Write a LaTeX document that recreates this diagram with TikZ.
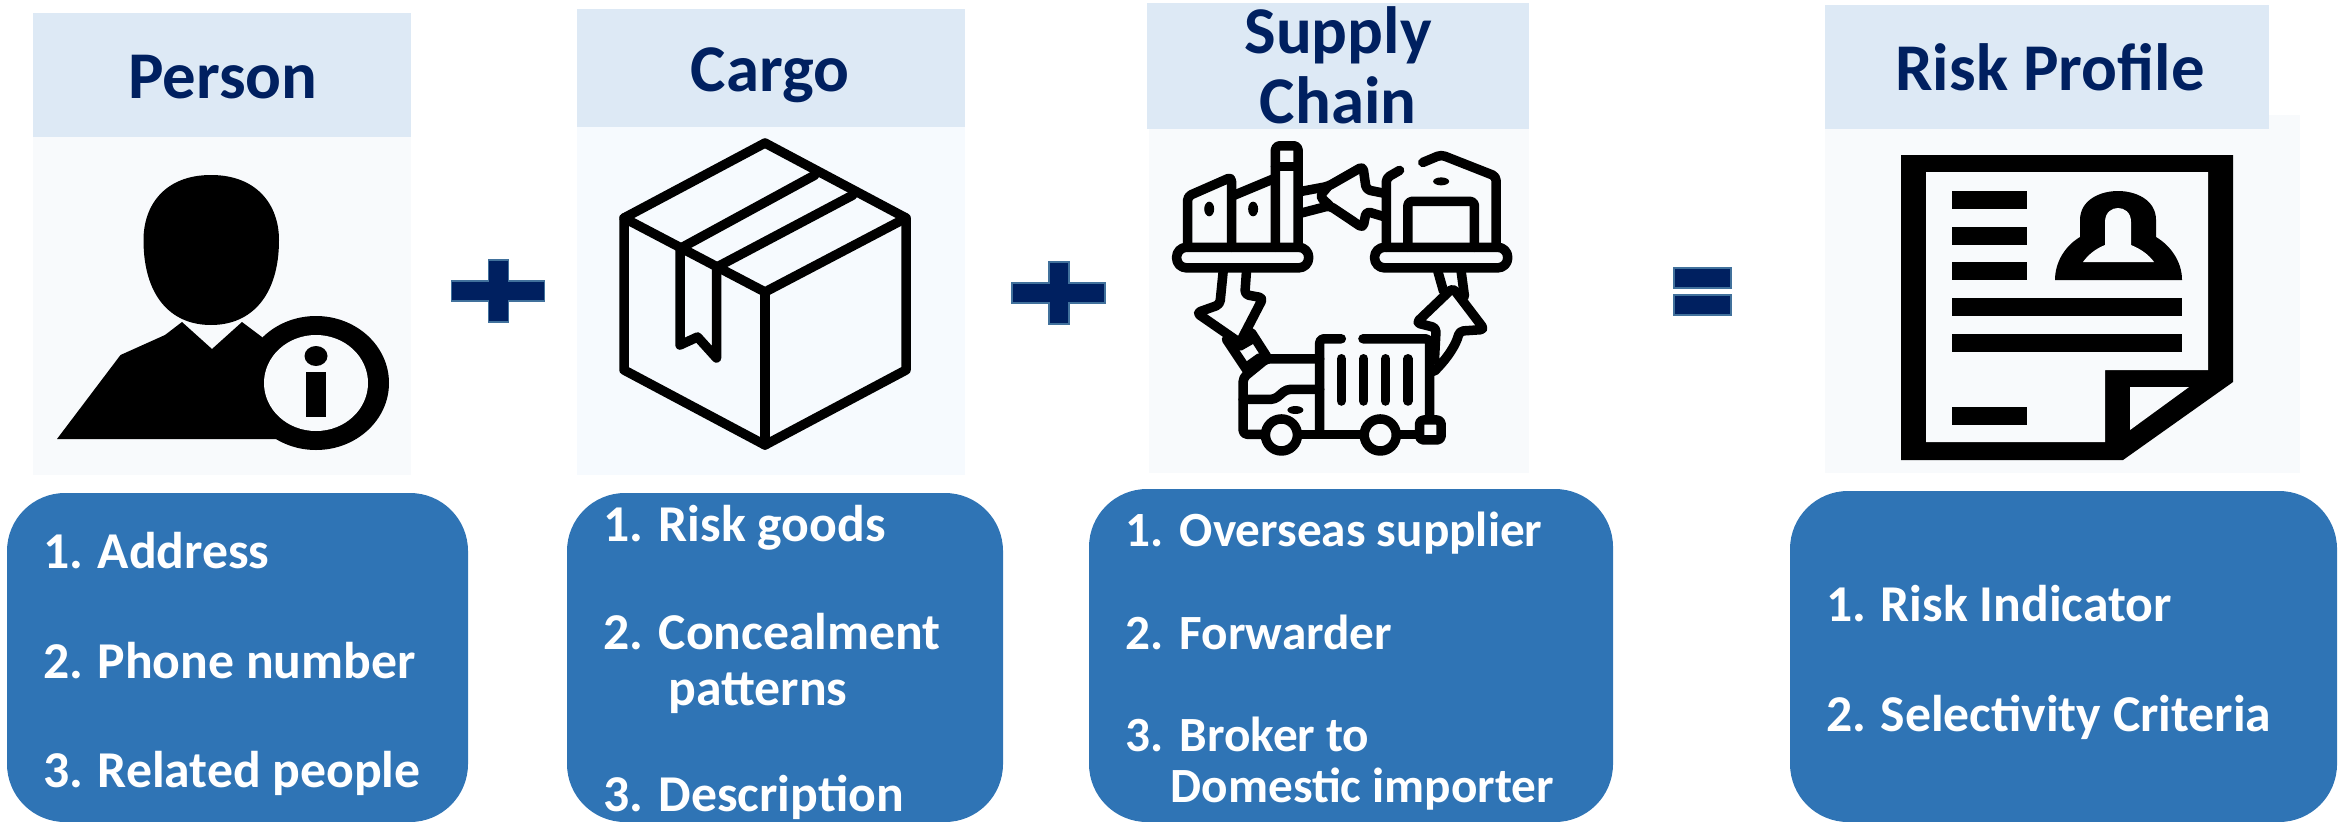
\documentclass[tikz,border=0pt]{standalone}
\usepackage{fontspec}
\setmainfont{Carlito}
\usepackage{tikz}
\definecolor{headfill}{HTML}{DDE9F5}
\definecolor{panelfill}{HTML}{F8FAFC}
\definecolor{cargofill}{HTML}{F6FAFE}
\definecolor{listfill}{HTML}{2F74B5}
\definecolor{navy}{HTML}{002060}
\definecolor{signedge}{HTML}{41719C}
\tikzset{
	headtext/.style={anchor=base,inner sep=0,text=navy,font=\fontsize{19}{22}\selectfont\bfseries},
	listtext/.style={anchor=base west,inner sep=0,text=white,font=\fontsize{14.7}{18}\selectfont\bfseries},
	listnarrow/.style={listtext,font=\fontsize{14}{18}\selectfont\bfseries},
	listbox/.style={fill=listfill,rounded corners=0.58cm},
	sign/.style={fill=navy,draw=signedge,line width=0.5pt},
	icon/.style={line width=0.095cm,line join=round,line cap=round},
	iconfine/.style={icon,rounded corners=0.04cm}
}
\begin{document}
\begin{tikzpicture}[x=0.01cm,y=-0.01cm]
	\useasboundingbox (0,0) rectangle (2343,821);
	%Panels and headers
	\fill[panelfill] (33,137) rectangle (411,475);
	\fill[cargofill] (577,127) rectangle (965,475);
	\fill[panelfill] (1149,129) rectangle (1529,473);
	\fill[panelfill] (1825,115) rectangle (2300,473);
	\fill[headfill] (33,13) rectangle (411,137);
	\fill[headfill] (577,9) rectangle (965,127);
	\fill[headfill] (1147,3) rectangle (1529,129);
	\fill[headfill] (1825,5) rectangle (2269,129);
	\node[headtext] (person) at (223,98) {Person};
	\node[headtext] (cargo) at (770,91) {Cargo};
	\node[headtext] (supply) at (1338,53) {Supply};
	\node[headtext] (chain) at (1338,123) {Chain};
	\node[headtext] (risk) at (2050,90) {Risk Profile};
	%Plus and equals
	\foreach \x/\y in {451.6/260,1012/262}
	{\draw[sign] (\x,\y+21) -| (\x+37,\y) -| (\x+57,\y+21) -| (\x+93,\y+41) -| (\x+57,\y+62) -| (\x+37,\y+41) -| (\x,\y+21) -- cycle;}
	\draw[sign] (1673.6,268) rectangle (1731,288);
	\draw[sign] (1673.6,295) rectangle (1731,315);
	%Person icon
	\fill (211,175) .. controls (165,175) and (143.5,205) .. (143.5,240)
		.. controls (143.5,295) and (170,325) .. (211,325)
		.. controls (252,325) and (279,295) .. (279,240)
		.. controls (279,205) and (257,175) .. (211,175);
	\fill (57,439) -- (120.5,355) -- (165,335) -- (182,322) -- (212,349) -- (242,322) -- (262,337) -- (300,400) -- (277,439) -- cycle;
	\fill (316,383) ellipse (73 and 67);
	\fill[panelfill] (316,383) ellipse (52 and 48);
	\fill (316,356) ellipse (11.5 and 10);
	\fill (306,372) rectangle (326,417);
	%Cargo icon
	\draw[icon] (765,143) -- (906,218) -- (906,370) -- (765,445) -- (624,370) -- (624,218) -- cycle;
	\draw[icon] (624,218) -- (765,292) -- (906,218);
	\draw[icon] (765,292) -- (765,445);
	\draw[icon] (681,248) -- (815,175);
	\draw[icon] (717,267) -- (853,195);
	\draw[icon] (680,248) -- (680,345) -- (697.5,337) -- (716.5,358) -- (716.5,267);
	%Supply chain icon
	\begin{scope}[shift={(1120,0)},x=0.00333cm,y=-0.00333cm]
		\draw[icon,rounded corners=0.1cm] (170,743) rectangle (567,805);
		\draw[icon,rounded corners=0.1cm] (765,743) rectangle (1165,805);
		\draw[iconfine] (203,743) -- (203,590) -- (335,532) -- (335,743);
		\draw[iconfine] (335,590) -- (467,535);
		\draw[iconfine] (467,743) -- (467,438) -- (535,438) -- (535,743);
		\draw[icon] (467,500) -- (535,500);
		\foreach \x in {268,400}
		{\fill (\x,628) ellipse (15 and 22);}
		\draw[iconfine] (545,575) -- (625,560) -- (730,500) -- (740,570) -- (790,580);
		\draw[iconfine] (545,640) -- (630,618) -- (730,685) -- (740,635) -- (790,650);
		\draw[iconfine] (630,618) -- (600,590) -- (625,560);
		\draw[iconfine] (800,743) -- (800,535) -- (840,512);
		\draw[iconfine] (910,488) -- (965,465) -- (1130,530) -- (1130,743);
		\draw[iconfine] (865,743) -- (865,605) -- (1065,605) -- (1065,743);
		\fill (965,545) ellipse (24 and 12);
		\draw[iconfine] (955,815) -- (972,875);
		\draw[iconfine] (1025,815) -- (1035,890);
		\draw[iconfine] (945,1115) .. controls (985,1075) and (1010,1035) .. (1020,995) -- (1095,990) -- (1000,865) -- (890,970) -- (950,985) -- (945,1080);
		\draw[iconfine] (310,815) -- (300,915) -- (230,940) -- (360,1030) -- (430,895) -- (375,885) -- (380,815);
		\draw[iconfine] (320,1020) -- (380,1110);
		\draw[iconfine] (395,1000) -- (440,1070);
		\draw[iconfine] (360,1040) -- (395,1020);
		\draw[iconfine] (385,1100) -- (420,1075);
		\draw[iconfine] (600,1300) -- (600,1018) -- (665,1018);
		\draw[iconfine] (730,1018) -- (930,1018) -- (930,1250);
		\foreach \x in {665,732,798,865}
		{\draw[icon] (\x,1078) -- (\x,1205);}
		\draw[iconfine] (600,1078) -- (440,1078) -- (370,1135) -- (370,1305) -- (430,1305);
		\draw[iconfine] (370,1200) -- (465,1200) -- (500,1170) -- (600,1170);
		\fill (527,1232) ellipse (24 and 12);
		\draw[icon] (540,1305) -- (730,1305);
		\draw[icon] (835,1305) -- (895,1305);
		\foreach \x in {485,782}
		{\draw[icon] (\x,1307) circle (0.16cm);}
		\draw[iconfine] (900,1262) rectangle (965,1322);
	\end{scope}
	%Risk profile icon
	\fill (1901,155) -- (2233,155) -- (2233,382) -- (2123,460) -- (1901,460) -- cycle;
	\fill[panelfill] (1926,172) -- (2208,172) -- (2208,370) -- (2105,370) -- (2105,442) -- (1926,442) -- cycle;
	\fill[panelfill] (2130,387) -- (2189,387) -- (2130,430) -- cycle;
	\foreach \y in {191,227,262,407}
	{\fill (1952,\y) rectangle (2027,\y+17.5);}
	\foreach \y in {298,334}
	{\fill (1952,\y) rectangle (2182,\y+17.5);}
	\fill (2055,280) .. controls (2055,262) and (2065,246) .. (2080,237) -- (2080,220)
		.. controls (2080,200) and (2100,191) .. (2118,191)
		.. controls (2136,191) and (2156,200) .. (2156,220) -- (2156,237)
		.. controls (2171,246) and (2182,262) .. (2182,280) -- cycle;
	\fill[panelfill] (2083,262) .. controls (2088,255) and (2095,249) .. (2105,245) -- (2105,222)
		.. controls (2105,212) and (2112,208) .. (2118,208)
		.. controls (2124,208) and (2131,212) .. (2131,222) -- (2131,245)
		.. controls (2141,249) and (2149,255) .. (2154,262) -- cycle;
	%Lists
	\fill[listbox] (7,493) rectangle (468,822);
	\fill[listbox] (567,493) rectangle (1003,822);
	\fill[listbox] (1089,489) rectangle (1613,822);
	\fill[listbox] (1790,491) rectangle (2337,822);
	\node[listtext] (addressnum) at (43,568) {1.};
	\node[listtext] (address) at (97,568) {Address};
	\node[listtext] (phonenum) at (43,678) {2.};
	\node[listtext] (phone) at (97,678) {Phone number};
	\node[listtext] (relatednum) at (43,787) {3.};
	\node[listtext] (related) at (97,787) {Related people};
	\node[listtext] (goodsnum) at (603,541) {1.};
	\node[listtext] (goods) at (658,541) {Risk goods};
	\node[listtext] (concealnum) at (603,649) {2.};
	\node[listtext] (conceal) at (658,649) {Concealment};
	\node[listtext] (patterns) at (668,705) {patterns};
	\node[listtext] (descrnum) at (603,811) {3.};
	\node[listtext] (descr) at (658,811) {Description};
	\node[listnarrow] (overseasnum) at (1125,546) {1.};
	\node[listnarrow] (overseas) at (1179,546) {Overseas supplier};
	\node[listnarrow] (forwardnum) at (1125,649) {2.};
	\node[listnarrow] (forward) at (1179,649) {Forwarder};
	\node[listnarrow] (brokernum) at (1125,751) {3.};
	\node[listnarrow] (broker) at (1179,751) {Broker to};
	\node[listnarrow] (importer) at (1170,802) {Domestic importer};
	\node[listtext] (indicatornum) at (1826,621) {1.};
	\node[listtext] (indicator) at (1880,621) {Risk Indicator};
	\node[listtext] (criterianum) at (1826,731) {2.};
	\node[listtext] (criteria) at (1880,731) {Selectivity Criteria};
\end{tikzpicture}
\end{document}
